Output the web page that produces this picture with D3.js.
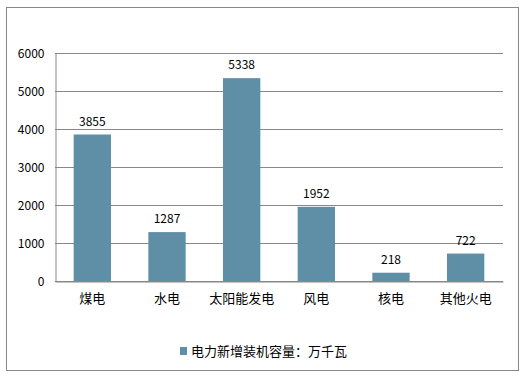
<!DOCTYPE html>
<html>
<head>
<meta charset="utf-8">
<script src="https://cdn.jsdelivr.net/npm/d3@7"></script>
<style>
  body { margin: 0; background: #fff; }
  text { font-family: "Noto Sans CJK SC", "DejaVu Sans", sans-serif; fill: #000; }
</style>
</head>
<body>
<div id="chart"></div>
<script>
// 电力新增装机容量 bar chart

const categories = ["煤电", "水电", "太阳能发电", "风电", "核电", "其他火电"];
const values = [3855, 1287, 5338, 1952, 218, 722];
const yTicks = [0, 1000, 2000, 3000, 4000, 5000, 6000];
const seriesName = "电力新增装机容量：万千瓦";

const W = 524, H = 378;
const plot = { left: 55, right: 503, top: 53, bottom: 281 };

const svg = d3.select("#chart").append("svg")
  .attr("width", W)
  .attr("height", H);

// outer frame
svg.append("rect")
  .attr("x", 6.5).attr("y", 7.5)
  .attr("width", 512).attr("height", 363)
  .attr("fill", "#fff")
  .attr("stroke", "#888")
  .attr("stroke-width", 1);

const x = d3.scaleBand()
  .domain(categories)
  .range([plot.left, plot.right])
  .paddingInner(0.5)
  .paddingOuter(0.25);

const y = d3.scaleLinear()
  .domain([0, 6000])
  .range([plot.bottom, plot.top]);

// gridlines
svg.append("g")
  .selectAll("line")
  .data(yTicks)
  .enter()
  .append("line")
  .attr("x1", plot.left)
  .attr("x2", plot.right)
  .attr("y1", d => Math.round(y(d)) + 0.5)
  .attr("y2", d => Math.round(y(d)) + 0.5)
  .attr("stroke", "#888");

// y axis
const yAxis = svg.append("g")
  .attr("transform", `translate(${plot.left + 0.5},0.5)`)
  .call(d3.axisLeft(y).tickValues(yTicks).tickSize(0).tickPadding(11).tickFormat(d3.format("d")));
yAxis.select(".domain").attr("stroke", "#888");
yAxis.selectAll("text").attr("font-size", 12).attr("fill", "#000");

// bars
svg.append("g")
  .selectAll("rect")
  .data(values)
  .enter()
  .append("rect")
  .attr("x", (d, i) => x(categories[i]))
  .attr("y", d => y(d))
  .attr("width", x.bandwidth())
  .attr("height", d => plot.bottom - y(d))
  .attr("fill", "#5f8fa6");

// value labels
svg.append("g")
  .selectAll("text")
  .data(values)
  .enter()
  .append("text")
  .attr("x", (d, i) => x(categories[i]) + x.bandwidth() / 2)
  .attr("y", d => y(d) - 9)
  .attr("text-anchor", "middle")
  .attr("font-size", 12)
  .text(d => d);

// x axis
const xAxis = svg.append("g")
  .attr("transform", `translate(0,${plot.bottom + 0.5})`)
  .call(d3.axisBottom(x).tickSize(0).tickPadding(12));
xAxis.select(".domain").attr("stroke", "#888");
xAxis.selectAll("text").attr("font-size", 13).attr("fill", "#000");

// legend
const legend = svg.append("g").attr("transform", "translate(180,347)");
legend.append("rect")
  .attr("width", 7).attr("height", 8)
  .attr("fill", "#5f8fa6");
legend.append("text")
  .attr("x", 11).attr("y", 8.5)
  .attr("font-size", 13)
  .text(seriesName);
</script>
</body>
</html>
